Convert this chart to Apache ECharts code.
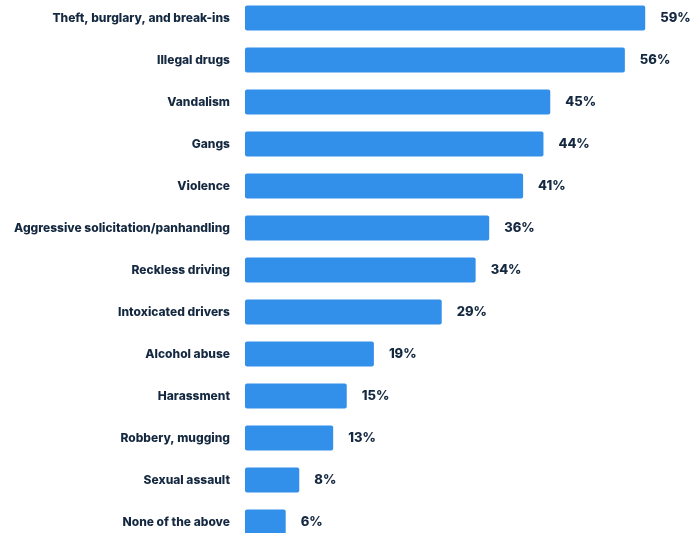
<!DOCTYPE html>
<html><head><meta charset="utf-8">
<script src="https://cdn.jsdelivr.net/npm/echarts@6/dist/echarts.min.js"></script>
<style>html,body{margin:0;padding:0;background:#fff;overflow:hidden;width:696px;height:533px;position:relative}#c{position:absolute;left:0;top:-3px;width:696px;height:549px}</style>
</head><body><div id="c"></div>
<script>
const categories = ["Theft, burglary, and break-ins","Illegal drugs","Vandalism","Gangs","Violence","Aggressive solicitation/panhandling","Reckless driving","Intoxicated drivers","Alcohol abuse","Harassment","Robbery, mugging","Sexual assault","None of the above"];
const values = [59,56,45,44,41,36,34,29,19,15,13,8,6];
const chart = echarts.init(document.getElementById('c'));
chart.setOption({
  animation:false,
  grid:{left:245, top:0, width:407, height:546},
  xAxis:{type:'value', min:0, max:60, show:false},
  yAxis:{type:'category', data:categories, inverse:true,
    axisLine:{show:false}, axisTick:{show:false},
    axisLabel:{margin:15, color:'#142840', fontFamily:'Inter', fontWeight:800, fontSize:12}},
  series:[{type:'bar', data:values, barWidth:25,
    itemStyle:{color:'#3390EA', borderRadius:2},
    label:{show:true, position:'right', distance:15, formatter:'{c}%', color:'#142840', fontFamily:'Inter', fontWeight:800, fontSize:13}}]
});
</script></body></html>
